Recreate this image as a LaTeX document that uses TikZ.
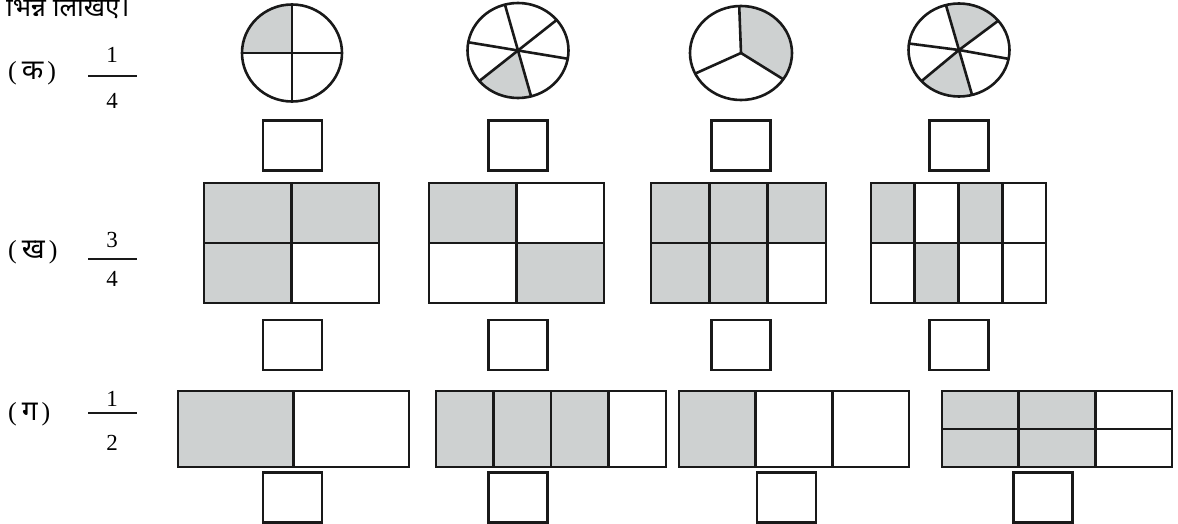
\documentclass[tikz,border=0pt]{standalone}
\usepackage{fontspec}
\setmainfont{Liberation Serif}
\newfontfamily\devfont[Script=Devanagari]{Noto Sans}
\usepackage{tikz}
\usetikzlibrary{positioning}
\definecolor{FracGray}{RGB}{206,209,209}
\definecolor{FracInk}{RGB}{25,25,25}
% drop one pair of braces round a list held in a macro
\newcommand{\unbrace}[1]{#1}

\tikzset{
  fracline/.style={FracInk, line width=2.6pt},
  fracbar/.style={FracInk, line width=1.6pt},
  ansbox/.style={draw=FracInk, line width=2.6pt, minimum width=59pt,
                 minimum height=50pt, inner sep=0pt},
  fracdigit/.style={font=\fontsize{23}{26}\selectfont, inner sep=0pt},
  partlabel/.style={font=\fontsize{26}{30}\selectfont, inner sep=0pt,
                    anchor=west}
}

\begin{document}
\begin{tikzpicture}[x=1pt, y=1pt]
  \useasboundingbox (0,0) rectangle (1178,-524);
  % heading, cut by the top edge
  \node[font=\devfont\fontsize{26}{30}\selectfont, anchor=base west,
        inner sep=0pt] (title) at (6,-17) {भिन्न लिखिए।};

  % part labels and fractions
  \foreach \row/\lbl/\ly in {k/क/73.5, kh/ख/252.5, g/ग/414}
    \node[partlabel] (lbl\row) at (8,-\ly)
         {(\kern5pt{\devfont\fontsize{28}{30}\selectfont\lbl}\kern4pt)};
  \foreach \row/\num/\den/\ny/\by/\dy in {
    k/1/4/55/76/100.5,
    kh/3/4/239.5/259/279,
    g/1/2/399/413/442.5
  } {
    \node[fracdigit] (num\row) at (112,-\ny) {\num};
    \node[fracdigit] (den\row) at (112,-\dy) {\den};
    \draw[fracbar] (88,-\by) -- (137,-\by);
  }

  % circles
  \foreach \cx/\cy/\rx/\ry/\spk/\sect in {
    292/53/50/48.5/{0,90,180,270}/{90/180},
    518/50.5/50.5/47.5/{105,40,-10,-75,-140,170}/{-140/-75},
    741/53/51/47/{92,-34,-154}/{-34/92},
    959/50/50.5/46.5/{105,39,-11,-75,-138,172}/{39/105,-138/-75}
  } {
    \edef\spokelist{\expandafter\unbrace\spk}
    \edef\sectlist{\expandafter\unbrace\sect}
    \begin{scope}[shift={(\cx,-\cy)}]
      \foreach \sa/\sb in \sectlist
        \fill[FracGray] (0,0) -- ({\rx*cos(\sa)},{\ry*sin(\sa)})
             arc[start angle=\sa, end angle=\sb, x radius=\rx, y radius=\ry]
             -- cycle;
      \draw[fracline] (0,0) ellipse[x radius=\rx, y radius=\ry];
      \foreach \sa in \spokelist
        \draw[fracline] (0,0) -- ({\rx*cos(\sa)},{\ry*sin(\sa)});
    \end{scope}
  }

  % rectangles split into cells
  \foreach \gx/\gy/\gw/\gh/\nc/\nr/\cells in {
    204/183/175/120/2/2/{1/1,2/1,1/2},
    429/183/175/120/2/2/{1/1,2/2},
    651/183/175/120/3/2/{1/1,2/1,3/1,1/2,2/2},
    871/183/175/120/4/2/{1/1,3/1,2/2},
    178/391/231/76/2/1/{1/1},
    436/391/230/76/4/1/{1/1,2/1,3/1},
    679/391/230/76/3/1/{1/1},
    942/391/230/76/3/2/{1/1,2/1,1/2,2/2}
  } {
    \pgfmathsetmacro{\cellw}{\gw/\nc}
    \pgfmathsetmacro{\cellh}{\gh/\nr}
    \edef\celllist{\expandafter\unbrace\cells}
    \foreach \ci/\ri in \celllist
      \fill[FracGray] (\gx+\cellw*\ci-\cellw, -\gy-\cellh*\ri+\cellh)
            rectangle ++(\cellw,-\cellh);
    \foreach \ci in {1,...,\nc}
      \foreach \ri in {1,...,\nr}
        \draw[fracline] (\gx+\cellw*\ci-\cellw, -\gy-\cellh*\ri+\cellh)
              rectangle ++(\cellw,-\cellh);
  }

  % answer boxes
  \foreach \row/\by in {k/145.7, kh/345}
    \foreach \col/\bx in {1/292.5, 2/518, 3/741, 4/959}
      \node[ansbox] (box\row\col) at (\bx,-\by) {};
  \foreach \col/\bx in {1/292.5, 2/518, 3/786.5, 4/1043}
    \node[ansbox] (boxg\col) at (\bx,-497.5) {};
\end{tikzpicture}
\end{document}
